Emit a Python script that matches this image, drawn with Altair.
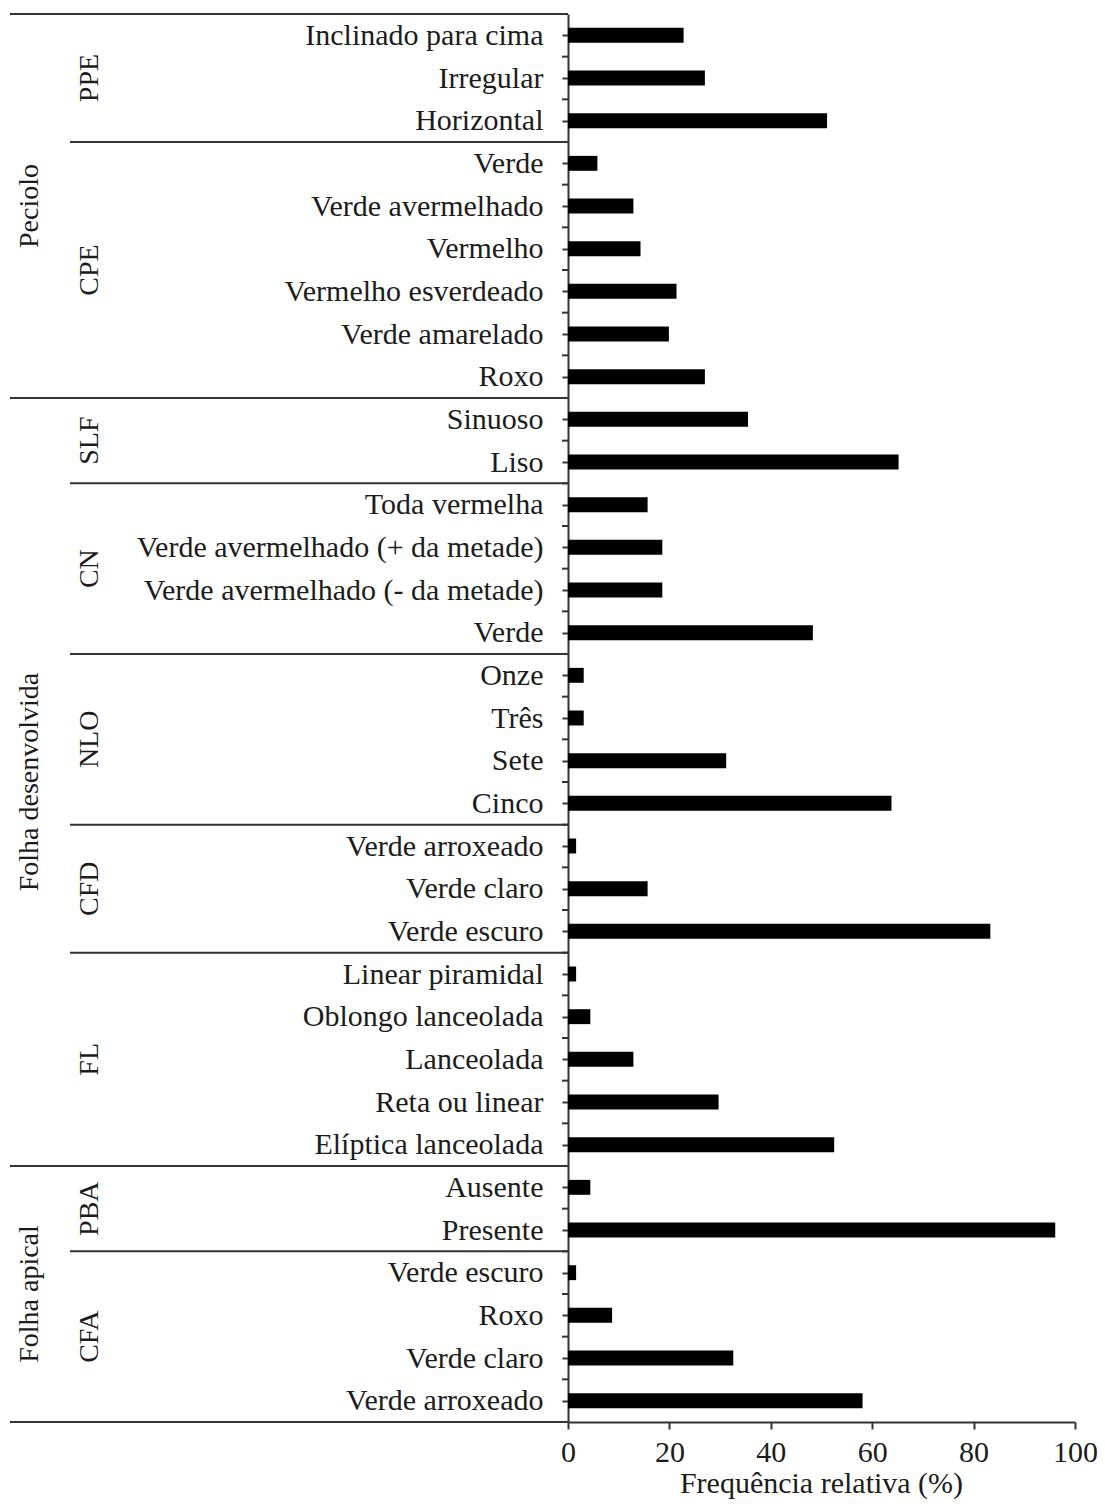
import json
import altair as alt
import pandas as pd

# ---------------- data ----------------
groups = ["Peciolo", "Folha desenvolvida", "Folha apical"]
group_sizes = [9, 18, 6]

subgroups = ["PPE", "CPE", "SLF", "CN", "NLO", "CFD", "FL", "PBA", "CFA"]
subgroup_sizes = [3, 6, 2, 4, 4, 3, 5, 2, 4]

categories = [
    "Inclinado para cima", "Irregular", "Horizontal",
    "Verde", "Verde avermelhado", "Vermelho", "Vermelho esverdeado", "Verde amarelado", "Roxo",
    "Sinuoso", "Liso",
    "Toda vermelha", "Verde avermelhado (+ da metade)", "Verde avermelhado (- da metade)", "Verde",
    "Onze", "Três", "Sete", "Cinco",
    "Verde arroxeado", "Verde claro", "Verde escuro",
    "Linear piramidal", "Oblongo lanceolada", "Lanceolada", "Reta ou linear", "Elíptica lanceolada",
    "Ausente", "Presente",
    "Verde escuro", "Roxo", "Verde claro", "Verde arroxeado",
]
values = [
    22.8, 27.0, 51.1,
    5.8, 12.9, 14.3, 21.4, 19.9, 27.0,
    35.5, 65.2,
    15.7, 18.6, 18.6, 48.3,
    3.1, 3.1, 31.2, 63.8,
    1.6, 15.7, 83.3,
    1.6, 4.4, 12.9, 29.7, 52.5,
    4.4, 96.1,
    1.6, 8.7, 32.6, 58.1,
]
x_ticks = [0, 20, 40, 60, 80, 100]
x_title = "Frequência relativa (%)"

# ---------------- styling ----------------
FONT = "Liberation Serif"
INK = "#1c1c1c"
LINE = "#333333"
BAR_FRAC = 0.35
W, H = 507, 1408

n = len(categories)
df = pd.DataFrame({"row": list(range(n)), "categoria": categories, "freq": values})
df["y0"] = df["row"] + (1 - BAR_FRAC) / 2
df["y1"] = df["row"] + (1 + BAR_FRAC) / 2
df["zero"] = 0.0


def spans(names, sizes):
    out, start = [], 0
    for nm, s in zip(names, sizes):
        out.append({"name": nm, "start": start, "end": start + s, "mid": start + s / 2})
        start += s
    return pd.DataFrame(out)


g = spans(groups, group_sizes)
sg = spans(subgroups, subgroup_sizes)
group_bounds = sorted(set([0] + g["end"].tolist()))
sub_bounds = sorted(set(sg["start"].tolist()) - set(group_bounds))

ys = alt.Scale(domain=[0, n], reverse=True, nice=False, zero=False)
xs = alt.Scale(domain=[0, 100], nice=False)

label_expr = "[" + ",".join(json.dumps(c, ensure_ascii=False) for c in categories) + "][floor(datum.value)]"

y_axis = alt.Axis(
    values=[i + 0.5 for i in range(n)],
    labelExpr=label_expr,
    title=None,
    grid=False,
    labelFont=FONT,
    labelFontSize=30,
    labelColor=INK,
    labelPadding=19,
    labelLimit=0,
    labelOverlap=False,
    labelBound=False,
    tickSize=6,
    tickWidth=2,
    tickColor=LINE,
    domainColor=LINE,
    domainWidth=2,
)
x_axis = alt.Axis(
    values=x_ticks,
    title=None,
    grid=False,
    labelFont=FONT,
    labelFontSize=30,
    labelColor=INK,
    labelPadding=8,
    labelFlush=False,
    labelOverlap=False,
    tickSize=7,
    tickWidth=2,
    tickColor=LINE,
    domainColor=LINE,
    domainWidth=2,
)

bars = alt.Chart(df).mark_rect(color="black").encode(
    x=alt.X("zero:Q", scale=xs, axis=x_axis),
    x2="freq:Q",
    y=alt.Y("y0:Q", scale=ys, axis=y_axis),
    y2="y1:Q",
)

ticks = alt.Chart(pd.DataFrame({"b": list(range(n + 1))})).mark_rule(
    color=LINE, strokeWidth=2
).encode(y=alt.Y("b:Q", scale=ys, title=None), x=alt.value(-6), x2=alt.value(0))

glines = alt.Chart(pd.DataFrame({"b": group_bounds})).mark_rule(
    color=LINE, strokeWidth=2
).encode(y=alt.Y("b:Q", scale=ys, title=None), x=alt.value(-558), x2=alt.value(0))

slines = alt.Chart(pd.DataFrame({"b": sub_bounds})).mark_rule(
    color=LINE, strokeWidth=2
).encode(y=alt.Y("b:Q", scale=ys, title=None), x=alt.value(-498), x2=alt.value(0))

gtext = alt.Chart(g).mark_text(
    angle=270, font=FONT, fontSize=28, color=INK, align="center", baseline="middle"
).encode(y=alt.Y("mid:Q", scale=ys, title=None), x=alt.value(-538), text="name:N")

stext = alt.Chart(sg).mark_text(
    angle=270, font=FONT, fontSize=28, color=INK, align="center", baseline="middle"
).encode(y=alt.Y("mid:Q", scale=ys, title=None), x=alt.value(-478), text="name:N")

xtitle = alt.Chart(pd.DataFrame({"t": [x_title]})).mark_text(
    font=FONT, fontSize=30, color=INK, align="center", baseline="alphabetic"
).encode(x=alt.value(W / 2), y=alt.value(H + 71), text="t:N")

chart = (
    alt.layer(bars, ticks, glines, slines, gtext, stext, xtitle)
    .properties(
        width=W,
        height=H,
        autosize=alt.AutoSizeParams(type="none"),
        padding={"left": 560, "top": 6, "right": 22, "bottom": 78},
    )
    .configure_view(stroke=None)
)

chart.save("out.html", embed_options={"renderer": "svg", "actions": False})
